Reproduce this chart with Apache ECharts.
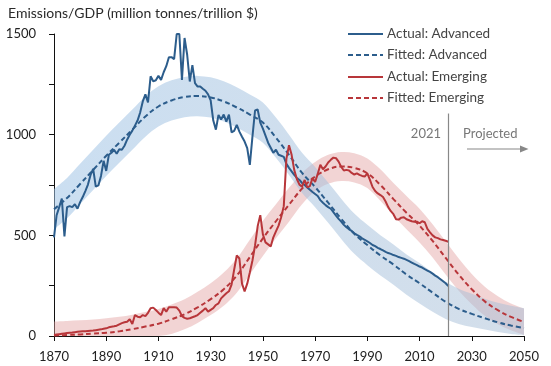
<!DOCTYPE html>
<html><head><meta charset="utf-8">
<script src="https://cdn.jsdelivr.net/npm/echarts@6/dist/echarts.min.js"></script>
<style>html,body{margin:0;padding:0;background:#fff}#c{width:551px;height:366px}</style>
</head><body><div id="c"></div>
<script>
const startYear = 1870;
const advancedActual = [
490,600,640,683,495,640,645,640,655,632,
665,690,720,752,800,830,742,748,795,870,
820,900,910,925,905,928,925,945,975,1000,
1020,1045,1070,1110,1165,1200,1160,1290,1265,1270,
1292,1272,1310,1340,1385,1385,1375,1500,1500,1272,
1480,1397,1264,1345,1256,1239,1239,1228,1218,1200,
1170,1070,1025,1098,1075,1100,1065,1100,1012,1019,
1049,1015,990,966,933,850,990,1120,1125,1060,
1030,995,960,935,910,925,900,895,890,855,
835,818,800,785,775,760,750,738,726,715,
705,695,675,662,650,640,632,615,598,582,
568,552,540,530,522,510,502,495,485,478,
470,462,452,446,438,432,425,418,412,408,
402,398,392,388,384,378,372,365,358,352,
345,340,332,325,318,310,300,292,282,272,
262,248];
const emergingActual = [
5,7,9,11,13,15,16,17,19,21,
22,23,24,25,26,27,29,31,33,36,
38,43,46,48,51,58,64,68,71,83,
60,104,96,93,104,99,115,138,141,129,
116,104,138,121,143,143,143,141,126,99,
90,86,88,93,98,104,115,126,138,121,
130,138,154,162,187,200,212,222,255,330,
400,385,260,222,260,315,375,450,545,600,
505,465,455,445,490,520,548,590,645,880,
948,900,825,780,752,742,775,738,745,784,
765,805,850,828,842,862,875,886,883,866,
840,822,825,822,810,802,808,800,795,792,
808,775,740,720,708,700,690,668,640,620,
605,580,578,588,590,580,575,570,568,568,
560,570,565,532,515,500,490,486,480,477,
473,468];
const fitYears = [1870,1875,1880,1885,1890,1895,1900,1905,1910,1915,1920,1925,1930,1935,1940,1945,1950,1955,1960,1965,1970,1975,1980,1985,1990,1995,2000,2005,2010,2015,2020,2025,2030,2035,2040,2045,2050];
const advancedFitted = [630,685,755,825,895,960,1025,1090,1140,1170,1187,1192,1185,1165,1135,1100,1060,985,900,810,740,662,582,508,452,400,355,305,262,215,170,135,110,88,68,52,40];
const advancedUpper  = [730,785,855,925,995,1060,1125,1190,1240,1270,1287,1292,1285,1265,1235,1200,1160,1085,1000,910,840,762,682,608,552,500,455,405,362,315,270,235,210,185,165,150,138];
const advancedLower  = [530,585,655,725,795,860,925,990,1040,1070,1087,1092,1085,1065,1035,1000,960,885,800,710,640,562,482,408,352,300,255,205,162,120,85,60,45,32,20,10,4];
const emergingFitted = [3,5,8,12,16,23,34,47,61,83,108,142,183,232,300,392,485,570,652,732,792,828,842,835,808,750,680,612,548,472,388,305,232,172,128,95,70];
const emergingUpper  = [72,75,78,82,88,95,106,119,134,157,183,220,262,315,385,478,573,655,736,810,864,900,914,908,882,828,760,695,632,555,470,385,308,245,198,162,136];
const emergingLower  = [0,0,0,0,0,0,0,0,0,10,33,65,104,150,215,306,397,485,568,654,720,756,770,763,735,672,600,530,465,390,305,225,158,100,58,28,5];
const xTicks = [1870,1890,1910,1930,1950,1970,1990,2010,2030,2050];
const yTickLabels = [0,500,1000,1500];
const projectionYear = 2021;
const titleText = 'Emissions/GDP (million tonnes/trillion $)';
const legendNames = ['Actual: Advanced','Fitted: Advanced','Actual: Emerging','Fitted: Emerging'];

const BLUE = '#2c5d8c', RED = '#b8363a';
const FONT = 'Lato, "Open Sans", sans-serif';
const pairs = (ys, vs) => vs.map((v, i) => [ys[i], v]);
const annual = vs => vs.map((v, i) => [startYear + i, v]);

// smooth path through pixel points (Catmull-Rom -> cubic Bezier), display only
function splineCmds(pts, first) {
  let d = first ? 'M' + pts[0][0] + ' ' + pts[0][1] : 'L' + pts[0][0] + ' ' + pts[0][1];
  for (let i = 0; i < pts.length - 1; i++) {
    const p0 = pts[Math.max(i - 1, 0)], p1 = pts[i], p2 = pts[i + 1], p3 = pts[Math.min(i + 2, pts.length - 1)];
    const c1 = [p1[0] + (p2[0] - p0[0]) / 6, p1[1] + (p2[1] - p0[1]) / 6];
    const c2 = [p2[0] - (p3[0] - p1[0]) / 6, p2[1] - (p3[1] - p1[1]) / 6];
    d += ' C' + c1[0] + ' ' + c1[1] + ' ' + c2[0] + ' ' + c2[1] + ' ' + p2[0] + ' ' + p2[1];
  }
  return d;
}
function bandSeries(upper, lower, fill, z) {
  return {
    type: 'custom', silent: true, z: z, clip: true, data: [[fitYears[0], upper[0]]],
    renderItem: (params, api) => {
      const top = fitYears.map((y, i) => api.coord([y, upper[i]]));
      const bot = fitYears.map((y, i) => api.coord([y, lower[i]])).reverse();
      return {type: 'path', shape: {pathData: splineCmds(top, true) + ' ' + splineCmds(bot, false) + ' Z'},
        style: {fill: fill}};
    }
  };
}

const chart = echarts.init(document.getElementById('c'), null, {renderer: 'canvas'});
const legendRows = [34, 55, 77, 98];
const legendStyles = [
  {c: BLUE, dash: null}, {c: BLUE, dash: [5, 3]}, {c: RED, dash: null}, {c: RED, dash: [5, 3]}
];
const graphics = [
  {type: 'text', left: 8, top: 6, style: {text: titleText, font: '14px ' + FONT, fill: '#2a2a2a'}},
  {type: 'text', x: 441, y: 134, style: {text: String(projectionYear), font: '13px ' + FONT, fill: '#777', align: 'right', verticalAlign: 'middle'}},
  {type: 'text', x: 463, y: 134, style: {text: 'Projected', font: '13px ' + FONT, fill: '#777', align: 'left', verticalAlign: 'middle'}},
  {type: 'line', shape: {x1: 467, y1: 149, x2: 521, y2: 149}, style: {stroke: '#888', lineWidth: 1.2}},
  {type: 'polygon', shape: {points: [[520, 145.5], [528.5, 149], [520, 152.5]]}, style: {fill: '#888'}}
];
legendNames.forEach((n, i) => {
  graphics.push({type: 'line', shape: {x1: 348, y1: legendRows[i], x2: 383, y2: legendRows[i]},
    style: {stroke: legendStyles[i].c, lineWidth: 2, lineDash: legendStyles[i].dash}});
  graphics.push({type: 'text', x: 387, y: legendRows[i],
    style: {text: n, font: '13.5px ' + FONT, fill: '#444', verticalAlign: 'middle'}});
});

const blueFill = new echarts.graphic.LinearGradient(0, 0, 1, 0, [
  {offset: 0, color: 'rgba(160,196,230,0.55)'}, {offset: 1, color: 'rgba(168,190,214,0.5)'}]);

chart.setOption({
  animation: false,
  backgroundColor: '#fff',
  grid: {left: 54, right: 27, top: 34, bottom: 30, containLabel: false},
  xAxis: {
    type: 'value', min: 1870, max: 2050, interval: 20,
    axisLine: {show: true, lineStyle: {color: '#111', width: 1}},
    axisTick: {show: true, length: 5, lineStyle: {color: '#111'}},
    splitLine: {show: false},
    axisLabel: {margin: 14, color: '#222', fontSize: 13, fontFamily: FONT,
      formatter: v => xTicks.includes(v) ? String(v) : ''}
  },
  yAxis: {
    type: 'value', min: 0, max: 1500, interval: 250,
    axisLine: {show: true, lineStyle: {color: '#111', width: 1}},
    axisTick: {show: true, length: 5, lineStyle: {color: '#111'}},
    splitLine: {show: false},
    axisLabel: {margin: 18, color: '#222', fontSize: 13, fontFamily: FONT,
      formatter: v => yTickLabels.includes(v) ? String(v) : ''}
  },
  graphic: graphics,
  series: [
    bandSeries(emergingUpper, emergingLower, 'rgba(226,160,160,0.45)', 1),
    bandSeries(advancedUpper, advancedLower, blueFill, 2),
    {type: 'line', name: legendNames[1], data: pairs(fitYears, advancedFitted), smooth: 0.4, symbol: 'none',
      lineStyle: {color: BLUE, width: 2, type: [5, 3]}, z: 3},
    {type: 'line', name: legendNames[3], data: pairs(fitYears, emergingFitted), smooth: 0.4, symbol: 'none',
      lineStyle: {color: RED, width: 2, type: [5, 3]}, z: 3},
    {type: 'line', name: legendNames[0], data: annual(advancedActual), symbol: 'none',
      lineStyle: {color: BLUE, width: 2}, z: 4},
    {type: 'line', name: legendNames[2], data: annual(emergingActual), symbol: 'none',
      lineStyle: {color: RED, width: 2}, z: 4,
      markLine: {silent: true, symbol: 'none', label: {show: false},
        lineStyle: {color: '#888', width: 1.2, type: 'solid'},
        data: [[{coord: [projectionYear, 0]}, {coord: [projectionYear, 1105]}]]}}
  ]
});
</script></body></html>
